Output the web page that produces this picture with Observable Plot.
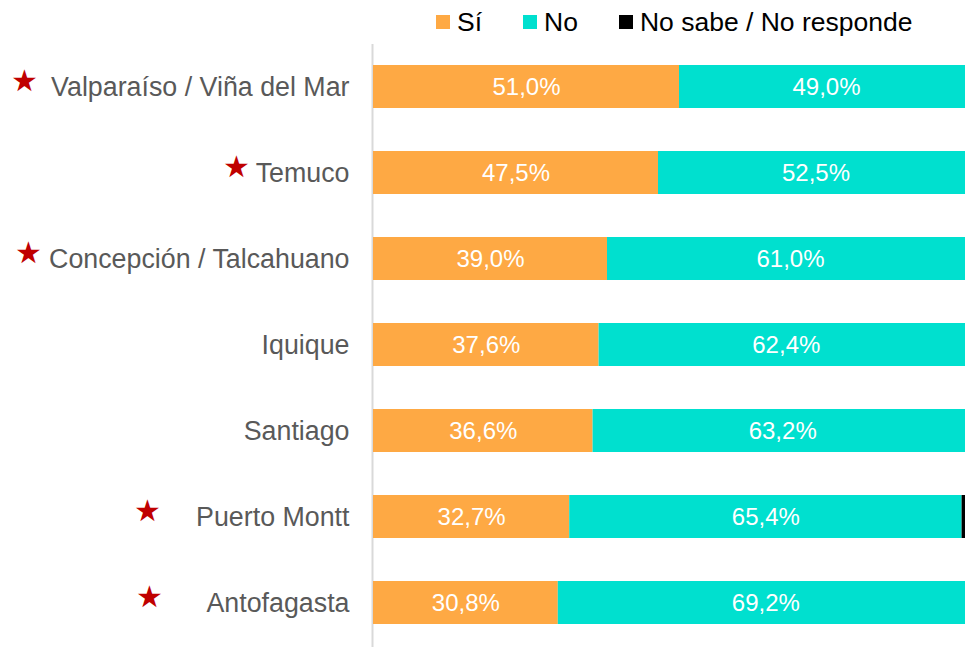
<!DOCTYPE html>
<html>
<head>
<meta charset="utf-8">
<script src="https://cdn.jsdelivr.net/npm/d3@7"></script>
<script src="https://cdn.jsdelivr.net/npm/@observablehq/plot@0.6"></script>
<style>
  html, body { margin: 0; padding: 0; background: #fff; overflow: hidden; }
  #wrap { width: 965px; height: 647px; overflow: hidden; position: relative; font-family: "Liberation Sans", Arial, sans-serif; }
  #legend { height: 44px; display: flex; align-items: center; padding-left: 436px; font-size: 26.5px; color: #000; }
  .item { display: flex; align-items: center; margin-right: 41px; }
  .sw { width: 14px; height: 14px; margin-right: 7px; }
  #chart svg { overflow: hidden; display: block; }
</style>
</head>
<body>
<div id="wrap">
  <div id="legend"></div>
  <div id="chart"></div>
</div>
<script>
const cities = ["Valparaíso / Viña del Mar", "Temuco", "Concepción / Talcahuano", "Iquique", "Santiago", "Puerto Montt", "Antofagasta"];
const cityLabels = ["★ \u2009Valparaíso / Viña del Mar", "★\u2009Temuco", "★ Concepción / Talcahuano", "Iquique", "Santiago", "★    \u2009Puerto Montt", "★      Antofagasta"];
const si = [51.0, 47.5, 39.0, 37.6, 36.6, 32.7, 30.8];
const no = [49.0, 52.5, 61.0, 62.4, 63.2, 65.4, 69.2];
const nsnr = [0, 0, 0, 0, 0.2, 1.9, 0];
const categories = ["Sí", "No", "No sabe / No responde"];
const colors = ["#FEA944", "#00E0CF", "#000000"];

const series = [si, no, nsnr];
const rows = cities.flatMap((c, i) => categories.map((k, j) => ({city: c, cat: k, value: series[j][i]})));
const fmt = v => v.toFixed(1).replace(".", ",") + "%";

// legend
const legend = document.getElementById("legend");
categories.forEach((k, j) => {
  const it = document.createElement("div");
  it.className = "item";
  const sw = document.createElement("div");
  sw.className = "sw";
  sw.style.background = colors[j];
  const tx = document.createElement("span");
  tx.textContent = k;
  it.appendChild(sw); it.appendChild(tx);
  legend.appendChild(it);
});

const chart = Plot.plot({
  width: 965,
  height: 603,
  marginTop: 0,
  marginBottom: 0,
  marginLeft: 373,
  marginRight: 0,
  style: {fontFamily: "'Liberation Sans', Arial, sans-serif", background: "#fff"},
  x: {domain: [0, 100], range: [373, 973], axis: null},
  y: {domain: cities, range: [18, 582], paddingInner: 0.505, paddingOuter: 0, axis: null},
  color: {domain: categories, range: colors},
  marks: [
    Plot.ruleX([0], {stroke: "#d9d9d9", strokeWidth: 2, dx: -1}),
    Plot.barX(rows, Plot.stackX({x: "value", y: "city", fill: "cat", order: categories})),
    Plot.text(rows.filter(d => d.cat !== "No sabe / No responde"), Plot.stackX({
      x: "value", y: "city", z: "cat", order: categories,
      text: d => fmt(d.value), fill: "white", fontSize: 24
    })),
    Plot.text(cities, {
      y: d => d, frameAnchor: "left", dx: -24, textAnchor: "end",
      text: (d, i) => cityLabels[i], fill: "#595959", fontSize: 26.8, className: "citylab"
    })
  ]
});
document.getElementById("chart").appendChild(chart);

// colour the stars red
chart.querySelectorAll(".citylab text").forEach(el => {
  const t = el.textContent;
  el.style.whiteSpace = "pre";
  el.setAttribute("xml:space", "preserve");
  if (t.startsWith("★")) {
    el.textContent = "";
    const ns = "http://www.w3.org/2000/svg";
    const s = document.createElementNS(ns, "tspan");
    s.textContent = "★";
    s.setAttribute("fill", "#C00000");
    s.setAttribute("font-size", "30");
    s.setAttribute("dy", "-5");
    const r = document.createElementNS(ns, "tspan");
    r.textContent = t.slice(1);
    r.setAttribute("dy", "5");
    el.appendChild(s); el.appendChild(r);
  }
});
</script>
</body>
</html>
